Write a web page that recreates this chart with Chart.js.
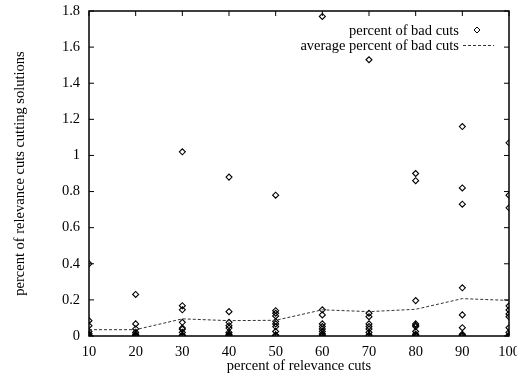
<!DOCTYPE html>
<html>
<head>
<meta charset="utf-8">
<script src="https://cdn.jsdelivr.net/npm/chart.js@4/dist/chart.umd.min.js"></script>
<style>
html, body { margin: 0; padding: 0; background: #ffffff; }
#wrap { width: 517px; height: 377px; }
</style>
</head>
<body>
<div id="wrap"><canvas id="chart"></canvas></div>
<script>
"use strict";

var relevanceCuts = [10, 20, 30, 40, 50, 60, 70, 80, 90, 100];

// percent of bad cuts, one list per relevance cut level
var bad10 = [0.40, 0.085, 0.057, 0.025, 0.012, 0.005, 0, 0];
var bad20 = [0.23, 0.067, 0.039, 0.02, 0.01, 0.005, 0, 0];
var bad30 = [1.02, 0.168, 0.145, 0.076, 0.044, 0.038, 0.02, 0.005, 0];
var bad40 = [0.88, 0.135, 0.076, 0.057, 0.044, 0.02, 0.01, 0.005, 0];
var bad50 = [0.78, 0.14, 0.126, 0.111, 0.08, 0.067, 0.052, 0.025, 0.005, 0];
var bad60 = [1.77, 0.145, 0.117, 0.067, 0.052, 0.039, 0.025, 0.012, 0.005, 0];
var bad70 = [1.53, 0.126, 0.107, 0.067, 0.052, 0.039, 0.02, 0.005, 0];
var bad80 = [0.90, 0.86, 0.196, 0.067, 0.06, 0.052, 0.025, 0.01, 0.005, 0];
var bad90 = [1.16, 0.82, 0.73, 0.267, 0.117, 0.046, 0.01, 0.005, 0];
var bad100 = [1.07, 0.78, 0.71, 0.167, 0.144, 0.122, 0.107, 0.046, 0.02, 0.005, 0];

var averageBad = [0.035, 0.035, 0.095, 0.085, 0.087, 0.145, 0.135, 0.148, 0.207, 0.197];

var xTickValues = [10, 20, 30, 40, 50, 60, 70, 80, 90, 100];
var yTickValues = [0, 0.2, 0.4, 0.6, 0.8, 1, 1.2, 1.4, 1.6, 1.8];
var yTickLabels = ["0", "0.2", "0.4", "0.6", "0.8", "1", "1.2", "1.4", "1.6", "1.8"];

var legendLabels = ["percent of bad cuts", "average percent of bad cuts"];

var serifFont = "'Liberation Serif', 'DejaVu Serif', serif";
var fontSize = 14.5;

function getScatterPoints() {
	var groups = [bad10, bad20, bad30, bad40, bad50, bad60, bad70, bad80, bad90, bad100];
	var points = [];
	groups.forEach((values, i) => {
		values.forEach((v) => {
			points.push({ x: relevanceCuts[i], y: v });
		});
	});
	return points;
}

function getAveragePoints() {
	return relevanceCuts.map((x, i) => ({ x: x, y: averageBad[i] }));
}

function drawDiamond(ctx, x, y, r) {
	ctx.beginPath();
	ctx.moveTo(x, y - r);
	ctx.lineTo(x + r, y);
	ctx.lineTo(x, y + r);
	ctx.lineTo(x - r, y);
	ctx.closePath();
	ctx.stroke();
}

// gnuplot style frame: border box with inward ticks on all sides
var framePlugin = {
	id: "frame",
	afterDraw(chart) {
		var ctx = chart.ctx;
		var area = chart.chartArea;
		var xs = chart.scales.x;
		var ys = chart.scales.y;
		var tick = 5;

		ctx.save();
		ctx.strokeStyle = "#000000";
		ctx.lineWidth = 1.5;
		ctx.strokeRect(area.left, area.top, area.right - area.left, area.bottom - area.top);

		ctx.lineWidth = 1;
		ctx.beginPath();
		xTickValues.forEach((v) => {
			var px = xs.getPixelForValue(v);
			ctx.moveTo(px, area.bottom);
			ctx.lineTo(px, area.bottom - tick);
			ctx.moveTo(px, area.top);
			ctx.lineTo(px, area.top + tick);
		});
		yTickValues.forEach((v) => {
			var py = ys.getPixelForValue(v);
			ctx.moveTo(area.left, py);
			ctx.lineTo(area.left + tick, py);
			ctx.moveTo(area.right, py);
			ctx.lineTo(area.right - tick, py);
		});
		ctx.stroke();

		// key, top right, text right aligned with sample after it
		ctx.font = fontSize + "px " + serifFont;
		ctx.fillStyle = "#000000";
		ctx.textAlign = "right";
		ctx.textBaseline = "middle";
		ctx.fillText(legendLabels[0], 459, 31);
		ctx.fillText(legendLabels[1], 459, 46);

		ctx.lineWidth = 1;
		drawDiamond(ctx, 477, 30, 3);

		ctx.strokeStyle = "#333333";
		ctx.setLineDash([3, 2]);
		ctx.beginPath();
		ctx.moveTo(463, 45.5);
		ctx.lineTo(494, 45.5);
		ctx.stroke();
		ctx.restore();
	}
};

var ctx = document.getElementById("chart").getContext("2d");

var chart = new Chart(ctx, {
	type: "scatter",
	data: {
		datasets: [
			{
				label: legendLabels[0],
				data: getScatterPoints(),
				pointStyle: "rectRot",
				pointRadius: 3,
				pointBorderWidth: 1.1,
				pointBorderColor: "#000000",
				pointBackgroundColor: "rgba(255,255,255,0)",
				showLine: false,
				order: 2
			},
			{
				label: legendLabels[1],
				data: getAveragePoints(),
				showLine: true,
				borderColor: "#333333",
				borderWidth: 1,
				borderDash: [3, 2],
				pointRadius: 0,
				fill: false,
				order: 1
			}
		]
	},
	options: {
		responsive: true,
		maintainAspectRatio: false,
		animation: false,
		layout: {
			padding: { top: 11, right: 8, left: 0, bottom: 0 }
		},
		plugins: {
			legend: { display: false },
			tooltip: { enabled: false }
		},
		scales: {
			x: {
				type: "linear",
				min: 10,
				max: 100,
				afterBuildTicks: (scale) => {
					scale.ticks = xTickValues.map((v) => ({ value: v }));
				},
				afterFit: (scale) => {
					scale.height = 41;
					scale.paddingLeft = 0;
					scale.paddingRight = 0;
				},
				grid: { display: false, drawTicks: false },
				border: { display: false },
				ticks: {
					color: "#000000",
					padding: 7.5,
					maxRotation: 0,
					autoSkip: false,
					callback: (value) => String(value),
					font: { family: serifFont, size: fontSize }
				},
				title: {
					display: true,
					text: "percent of relevance cuts",
					color: "#000000",
					padding: { top: 0, bottom: 2 },
					font: { family: serifFont, size: fontSize }
				}
			},
			y: {
				type: "linear",
				min: 0,
				max: 1.8,
				afterBuildTicks: (scale) => {
					scale.ticks = yTickValues.map((v) => ({ value: v }));
				},
				afterFit: (scale) => {
					scale.width = 89;
					scale.paddingTop = 0;
					scale.paddingBottom = 0;
				},
				grid: { display: false, drawTicks: false },
				border: { display: false },
				ticks: {
					color: "#000000",
					padding: 9,
					autoSkip: false,
					callback: (value, index) => yTickLabels[index],
					font: { family: serifFont, size: fontSize }
				},
				title: {
					display: true,
					text: "percent of relevance cuts cutting solutions",
					color: "#000000",
					padding: { top: 11, bottom: 0 },
					font: { family: serifFont, size: fontSize }
				}
			}
		}
	},
	plugins: [framePlugin]
});
</script>
</body>
</html>
